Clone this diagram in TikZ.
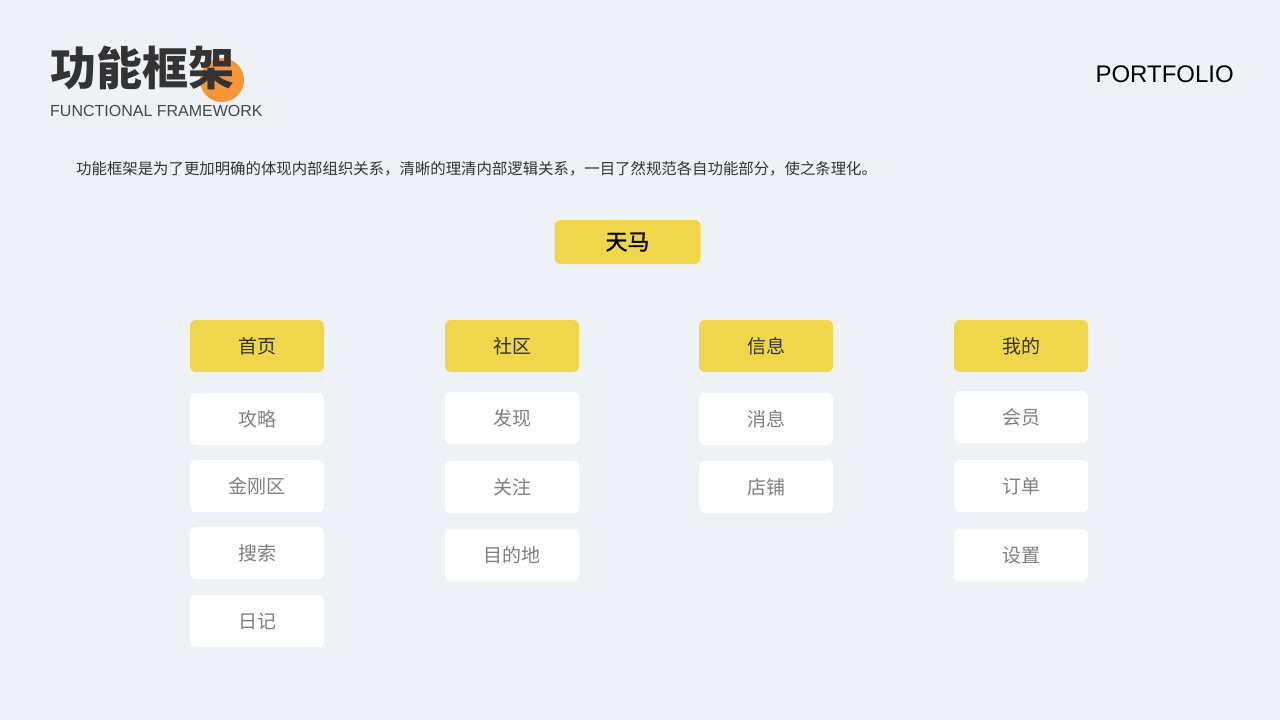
\documentclass[tikz,border=0pt]{standalone}
\usepackage{fontspec}
\setmainfont{Liberation Sans}
\newfontfamily\cjk{Noto Sans CJK SC}
\newfontfamily\cjkmed[FakeBold=1.2]{Noto Sans CJK SC}
\usetikzlibrary{calc}

\definecolor{bgcol}{HTML}{EEF2F7}
\definecolor{yel}{HTML}{F0D64A}
\definecolor{orng}{HTML}{F7953A}
\definecolor{txtgray}{HTML}{808080}
\definecolor{txtdark}{HTML}{333333}

\tikzset{
  head/.style={draw=none,fill=yel,rounded corners=6pt,minimum width=134pt,minimum height=52pt,inner sep=0pt,font=\cjk\fontsize{19}{19}\selectfont,text=txtdark},
  item/.style={draw=none,fill=white,rounded corners=6pt,minimum width=134pt,minimum height=52pt,inner sep=0pt,font=\cjk\fontsize{19}{19}\selectfont,text=txtgray}
}

\begin{document}
\begin{tikzpicture}[x=1pt,y=-1pt]

\fill[bgcol] (0,0) rectangle (1280,720);
\useasboundingbox (0,0) rectangle (1280,720);

\fill[orng] (222,80) circle (22);
\node[anchor=west,inner sep=0pt,text=txtdark] (title) at (50,68) {\cjk\fontsize{46}{46}\selectfont\bfseries 功能框架};
\node[anchor=west,inner sep=0pt,text=txtdark!90] (subtitle) at (50,111) {\fontsize{16}{16}\selectfont FUNCTIONAL FRAMEWORK};
\node[anchor=east,inner sep=0pt] (port) at (1234,74) {\fontsize{24}{24}\selectfont PORTFOLIO};
\node[anchor=west,inner sep=0pt,text=txtdark] (desc) at (76,169) {\cjk\fontsize{15.4}{15.4}\selectfont 功能框架是为了更加明确的体现内部组织关系，清晰的理清内部逻辑关系，一目了然规范各自功能部分，使之条理化。};

\node[head,minimum width=146pt,minimum height=44pt,text=black,font=\cjkmed\fontsize{22}{22}\selectfont] (root) at (627.5,242) {天马};

% column 1
\node[head] (home) at (257,346) {首页};
\node[item] (gonglue) at (257,419) {攻略};
\node[item] (jingang) at (257,486) {金刚区};
\node[item] (search) at (257,553) {搜索};
\node[item] (diary) at (257,621) {日记};

% column 2
\node[head] (community) at (512,346) {社区};
\node[item] (discover) at (512,418) {发现};
\node[item] (follow) at (512,487) {关注};
\node[item] (dest) at (512,555) {目的地};

% column 3
\node[head] (info) at (766,346) {信息};
\node[item] (msg) at (766,419) {消息};
\node[item] (shop) at (766,487) {店铺};

% column 4
\node[head] (mine) at (1021,346) {我的};
\node[item] (member) at (1021,417) {会员};
\node[item] (order) at (1021,486) {订单};
\node[item] (settings) at (1021,555) {设置};

\end{tikzpicture}
\end{document}
